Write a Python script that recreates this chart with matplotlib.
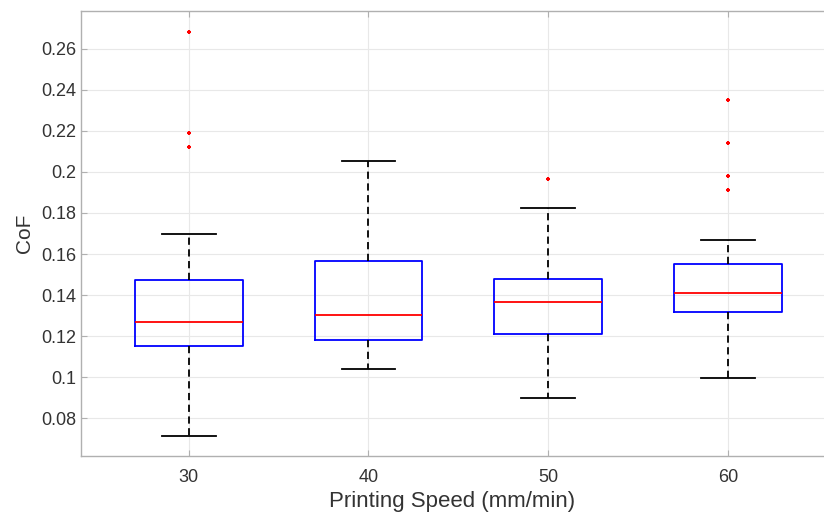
#!/usr/bin/env python3
import numpy as np
import matplotlib
matplotlib.use('Agg')
import matplotlib.pyplot as plt

# printing speeds (mm/min) and box statistics
speeds = ['30', '40', '50', '60']
whisker_low = [0.0712, 0.1038, 0.0897, 0.0993]
q1 = [0.1150, 0.1180, 0.1209, 0.1316]
medians = [0.1267, 0.1301, 0.1364, 0.1410]
q3 = [0.1471, 0.1564, 0.1476, 0.1553]
whisker_high = [0.1700, 0.2055, 0.1822, 0.1670]
outliers = [[0.2683, 0.2191, 0.2123], [], [0.1968], [0.2352, 0.2143, 0.1979, 0.1914]]


def main():
    plt.rcParams['font.family'] = ['Liberation Sans', 'DejaVu Sans']

    stats = []
    for i in range(len(speeds)):
        stats.append({'whislo': whisker_low[i], 'q1': q1[i], 'med': medians[i],
                      'q3': q3[i], 'whishi': whisker_high[i], 'fliers': outliers[i],
                      'label': speeds[i]})

    fig = plt.figure(figsize=(8.24, 5.12), dpi=100)
    ax = fig.add_axes([81 / 824, 1 - 456 / 512, 1 - 81 / 824, 445 / 512])

    ax.bxp(stats, positions=np.arange(1, len(speeds) + 1), widths=0.6,
           showfliers=True, capwidths=0.3,
           boxprops=dict(color='blue', linewidth=1.3),
           medianprops=dict(color='red', linewidth=1.3),
           whiskerprops=dict(color='black', linestyle=(0, (4, 2.5)), linewidth=1.3),
           capprops=dict(color='black', linewidth=1.3),
           flierprops=dict(marker='+', markeredgecolor='red', markersize=3.5,
                           markeredgewidth=1.5, linestyle='none'))

    ax.set_xlim(0.4, 4.535)
    ax.set_ylim(0.0615, 0.2785)
    ax.set_yticks([0.08, 0.1, 0.12, 0.14, 0.16, 0.18, 0.2, 0.22, 0.24, 0.26])
    ax.set_yticklabels(['0.08', '0.1', '0.12', '0.14', '0.16', '0.18', '0.2', '0.22', '0.24', '0.26'])

    ax.grid(True, color='#e8e8e8', linewidth=0.8)
    ax.set_axisbelow(True)
    for side in ['left', 'bottom', 'top']:
        ax.spines[side].set_color('#b0b0b0')
        ax.spines[side].set_linewidth(1.0)
    ax.spines['right'].set_visible(False)
    ax.tick_params(direction='in', length=4, color='#b0b0b0', labelcolor='#333333',
                   labelsize=13, top=True)
    ax.tick_params(axis='x', pad=9)

    ax.set_xlabel('Printing Speed (mm/min)', fontsize=16, color='#333333', labelpad=4)
    ax.set_ylabel('CoF', fontsize=15, color='#333333', labelpad=5)

    plt.savefig('out.png', dpi=100)


if __name__ == '__main__':
    main()
